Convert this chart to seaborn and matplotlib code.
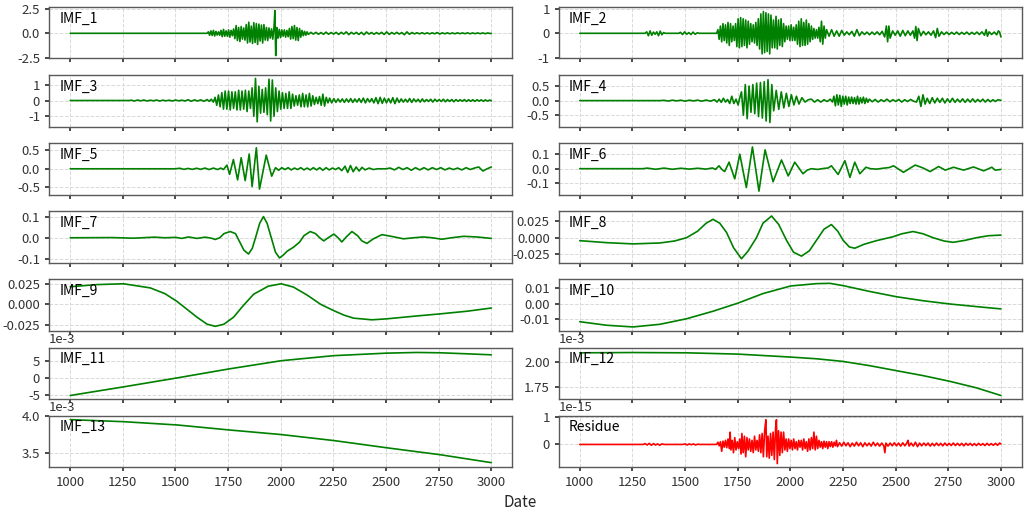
"""EMD decomposition panels: IMF_1 .. IMF_13 plus residue."""

import matplotlib
matplotlib.use("Agg")
import matplotlib.pyplot as plt
import pandas as pd
import seaborn as sns
from matplotlib.ticker import MultipleLocator, FixedLocator

# ---- values (date, amplitude) ----
imf1_x = [1000, 1650, 1656, 1662, 1668, 1674, 1680, 1686, 1692, 1698, 1704, 1710, 1716, 1722, 1728, 1734,
          1740, 1746, 1752, 1758, 1764, 1770, 1776, 1782, 1788, 1794, 1800, 1806, 1812, 1818, 1824, 1830,
          1836, 1842, 1848, 1854, 1860, 1866, 1872, 1878, 1884, 1890, 1896, 1902, 1908, 1914, 1920, 1926,
          1932, 1938, 1944, 1950, 1956, 1962, 1968, 1972, 1976, 1981, 1987, 1993, 1999, 2005, 2011, 2017,
          2023, 2029, 2035, 2041, 2047, 2053, 2059, 2065, 2071, 2077, 2083, 2089, 2095, 2101, 2107, 2113,
          2119, 2125, 2131, 2143, 2155, 2167, 2179, 2191, 2203, 2215, 2227, 2239, 2251, 2263, 2275, 2287,
          2299, 2311, 2323, 2335, 2347, 2359, 2371, 2383, 2395, 2407, 2419, 2431, 2443, 2455, 2467, 2479,
          2491, 2503, 2515, 2527, 2539, 2551, 2563, 2575, 2587, 2599, 2611, 2623, 2635, 2647, 2659, 2671,
          2683, 2695, 2707, 2719, 2731, 2743, 2755, 2767, 2779, 2791, 2803, 2815, 2827, 2839, 2851, 2863,
          2875, 2887, 2899, 2911, 2923, 2935, 2947, 2959, 2971, 2983, 2995, 3000]
imf1_y = [0.0, 0.0, 0.15, -0.2, 0.25, -0.22, 0.3, -0.28, 0.2, -0.18, 0.15, -0.2, 0.3, -0.35, 0.4, -0.3,
          0.25, -0.3, 0.35, -0.4, 0.3, -0.25, 0.45, -0.55, 0.8, -0.75, 0.6, -0.85, 0.7, -0.6, 0.55, -0.7,
          0.9, -1.0, 1.15, -0.9, 0.75, -1.05, 1.1, -0.95, 1.0, -1.15, 0.95, -0.8, 0.85, -1.0, 0.9, -0.7,
          0.6, -0.75, 0.55, -0.5, 0.45, -0.6, 0.7, 2.35, -2.3, 0.6, -0.5, 0.4, -0.45, 0.35, -0.3, 0.35,
          -0.4, 0.3, -0.35, 0.5, -0.6, 0.7, -0.55, 0.8, -0.7, 0.6, -0.75, 0.5, -0.4, 0.3, -0.25, 0.2,
          -0.2, 0.15, -0.12, 0.1, -0.08, 0.1, -0.1, 0.08, -0.1, 0.12, -0.1, 0.08, -0.08, 0.1, -0.12, 0.1,
          -0.08, 0.15, -0.14, 0.1, -0.08, 0.1, -0.12, 0.1, -0.15, 0.14, -0.08, 0.08, -0.1, 0.08, -0.08, 0.1,
          -0.12, 0.15, -0.12, 0.08, -0.08, 0.1, -0.08, 0.08, -0.15, 0.15, -0.1, 0.08, -0.06, 0.06, -0.06, 0.06,
          -0.06, 0.05, -0.06, 0.05, -0.05, 0.08, -0.08, 0.05, -0.05, 0.05, -0.05, 0.04, -0.05, 0.05, -0.04, 0.04,
          -0.04, 0.05, -0.05, 0.04, -0.04, 0.04, -0.04, 0.04, -0.04, 0.04, -0.03, 0.0]

imf2_x = [1000, 1310, 1318, 1326, 1334, 1342, 1350, 1358, 1366, 1374, 1382, 1390, 1398, 1406, 1470, 1478,
          1488, 1498, 1508, 1518, 1528, 1538, 1548, 1558, 1568, 1650, 1656, 1662, 1668, 1674, 1680, 1686,
          1692, 1698, 1704, 1710, 1716, 1722, 1728, 1734, 1740, 1746, 1752, 1758, 1764, 1770, 1776, 1782,
          1788, 1794, 1800, 1806, 1812, 1818, 1824, 1830, 1836, 1842, 1848, 1854, 1860, 1866, 1872, 1878,
          1884, 1890, 1896, 1902, 1908, 1914, 1920, 1926, 1932, 1938, 1944, 1950, 1956, 1962, 1968, 1974,
          1980, 1986, 1992, 1998, 2004, 2010, 2016, 2022, 2028, 2034, 2040, 2046, 2052, 2058, 2064, 2070,
          2076, 2082, 2088, 2094, 2100, 2106, 2112, 2118, 2124, 2130, 2136, 2142, 2148, 2154, 2160, 2166,
          2172, 2184, 2196, 2208, 2220, 2232, 2244, 2256, 2268, 2280, 2292, 2304, 2316, 2328, 2340, 2352,
          2364, 2376, 2388, 2400, 2412, 2424, 2436, 2448, 2456, 2462, 2468, 2474, 2486, 2498, 2510, 2522,
          2534, 2546, 2558, 2570, 2582, 2590, 2596, 2602, 2608, 2620, 2632, 2644, 2656, 2668, 2680, 2690,
          2698, 2706, 2718, 2730, 2742, 2754, 2766, 2778, 2790, 2802, 2814, 2826, 2838, 2850, 2862, 2874,
          2886, 2898, 2910, 2922, 2930, 2936, 2944, 2956, 2968, 2980, 2988, 2994, 3000]
imf2_y = [0.0, 0.0, 0.06, -0.1, 0.1, -0.08, 0.05, -0.04, 0.06, -0.1, 0.09, -0.06, 0.03, 0.0, 0.0, 0.04,
          -0.05, 0.06, -0.04, 0.03, -0.05, 0.05, -0.04, 0.02, 0.0, 0.0, 0.15, -0.25, 0.3, -0.35, 0.4, -0.3,
          0.35, -0.4, 0.45, -0.5, 0.4, -0.35, 0.3, -0.3, 0.4, -0.55, 0.6, -0.6, 0.65, -0.55, 0.6, -0.5,
          0.55, -0.6, 0.5, -0.45, 0.4, -0.35, 0.35, -0.4, 0.45, -0.5, 0.6, -0.65, 0.8, -0.85, 0.9, -0.8,
          0.85, -0.75, 0.8, -0.85, 0.75, -0.6, 0.55, -0.6, 0.7, -0.65, 0.55, -0.5, 0.6, -0.55, 0.4, -0.35,
          0.3, -0.25, 0.3, -0.3, 0.35, -0.3, 0.25, -0.3, 0.35, -0.45, 0.5, -0.55, 0.6, -0.5, 0.45, -0.5,
          0.55, -0.45, 0.4, -0.35, 0.3, -0.25, 0.2, -0.2, 0.15, -0.2, 0.25, -0.35, 0.5, -0.45, 0.3, -0.2,
          0.15, -0.12, 0.15, -0.12, 0.1, -0.12, 0.12, -0.08, 0.06, -0.06, 0.08, -0.12, 0.15, -0.1, 0.06, -0.05,
          0.05, -0.06, 0.05, -0.05, 0.06, -0.06, 0.08, -0.15, 0.3, -0.35, 0.3, -0.2, 0.1, -0.08, 0.1, -0.12,
          0.12, -0.1, 0.1, -0.08, 0.1, -0.2, 0.28, -0.3, 0.2, -0.1, 0.08, -0.06, 0.06, -0.08, 0.1, -0.18,
          0.2, -0.12, 0.06, -0.05, 0.05, -0.05, 0.04, -0.04, 0.05, -0.05, 0.04, -0.04, 0.05, -0.05, 0.04, -0.04,
          0.05, -0.05, 0.06, -0.08, 0.15, -0.12, 0.06, -0.05, 0.05, -0.06, 0.1, 0.05, -0.15]

imf3_x = [1000, 1280, 1290, 1305, 1320, 1335, 1350, 1365, 1380, 1395, 1410, 1425, 1440, 1455, 1470, 1485,
          1500, 1515, 1530, 1545, 1560, 1575, 1590, 1605, 1620, 1635, 1650, 1660, 1670, 1680, 1688, 1696,
          1704, 1712, 1720, 1728, 1736, 1744, 1752, 1760, 1768, 1776, 1784, 1792, 1800, 1808, 1816, 1824,
          1832, 1840, 1848, 1856, 1864, 1872, 1880, 1888, 1896, 1904, 1912, 1920, 1928, 1936, 1944, 1952,
          1960, 1968, 1976, 1984, 1992, 2000, 2008, 2016, 2024, 2032, 2040, 2048, 2056, 2064, 2072, 2080,
          2088, 2096, 2104, 2112, 2120, 2128, 2136, 2144, 2152, 2160, 2168, 2176, 2184, 2192, 2200, 2208,
          2216, 2224, 2232, 2242, 2252, 2262, 2272, 2282, 2292, 2302, 2312, 2322, 2332, 2342, 2352, 2362,
          2372, 2382, 2392, 2402, 2412, 2422, 2432, 2442, 2452, 2462, 2472, 2482, 2492, 2502, 2512, 2522,
          2532, 2542, 2552, 2562, 2572, 2582, 2592, 2602, 2612, 2622, 2632, 2642, 2652, 2662, 2672, 2682,
          2692, 2702, 2712, 2722, 2732, 2742, 2752, 2762, 2772, 2782, 2792, 2802, 2812, 2822, 2832, 2842,
          2852, 2862, 2872, 2882, 2892, 2902, 2912, 2922, 2932, 2942, 2952, 2962, 2972, 2982, 2992, 3000]
imf3_y = [0.0, 0.0, 0.02, -0.03, 0.03, -0.02, 0.03, -0.03, 0.02, -0.02, 0.03, -0.03, 0.02, -0.02, 0.02, -0.03,
          0.03, -0.02, 0.02, -0.03, 0.05, -0.05, 0.04, -0.03, 0.04, -0.05, 0.06, -0.05, 0.08, -0.1, 0.2, -0.3,
          0.35, -0.4, 0.5, -0.55, 0.6, -0.55, 0.6, -0.6, 0.55, -0.5, 0.55, -0.6, 0.65, -0.6, 0.6, -0.55,
          0.65, -0.7, 0.6, -0.5, 0.8, -1.0, 1.4, -1.35, 0.9, -0.8, 0.7, -0.75, 0.8, -0.9, 1.35, -1.3,
          1.3, -1.0, 0.8, -0.7, 0.6, -0.55, 0.5, -0.5, 0.45, -0.5, 0.55, -0.5, 0.4, -0.35, 0.3, -0.3,
          0.35, -0.4, 0.45, -0.4, 0.35, -0.4, 0.45, -0.35, 0.3, -0.25, 0.2, -0.2, 0.25, -0.3, 0.4, -0.35,
          0.2, -0.15, 0.15, -0.15, 0.12, -0.12, 0.1, -0.1, 0.1, -0.12, 0.1, -0.1, 0.12, -0.12, 0.1, -0.1,
          0.12, -0.12, 0.15, -0.15, 0.12, -0.1, 0.12, -0.15, 0.18, -0.2, 0.2, -0.18, 0.15, -0.15, 0.12, -0.15,
          0.18, -0.2, 0.15, -0.12, 0.1, -0.1, 0.08, -0.1, 0.12, -0.12, 0.1, -0.08, 0.08, -0.1, 0.1, -0.08,
          0.06, -0.06, 0.08, -0.1, 0.08, -0.06, 0.06, -0.06, 0.08, -0.08, 0.06, -0.06, 0.06, -0.08, 0.06, -0.05,
          0.05, -0.05, 0.06, -0.06, 0.05, -0.05, 0.05, -0.06, 0.05, -0.04, 0.04, -0.05, 0.04, -0.04, 0.03, -0.02]

imf4_x = [1000, 1380, 1400, 1420, 1440, 1460, 1480, 1500, 1520, 1540, 1560, 1580, 1600, 1620, 1640, 1652,
          1662, 1672, 1682, 1692, 1702, 1712, 1722, 1732, 1742, 1752, 1760, 1768, 1777, 1786, 1795, 1804,
          1813, 1822, 1831, 1840, 1849, 1858, 1867, 1876, 1885, 1894, 1903, 1912, 1921, 1933, 1945, 1957,
          1969, 1981, 1993, 2005, 2017, 2029, 2041, 2055, 2070, 2085, 2100, 2115, 2130, 2145, 2160, 2175,
          2190, 2200, 2207, 2214, 2221, 2228, 2235, 2242, 2249, 2256, 2263, 2270, 2277, 2284, 2291, 2298,
          2305, 2312, 2319, 2326, 2333, 2340, 2347, 2354, 2361, 2368, 2375, 2389, 2403, 2417, 2431, 2445,
          2459, 2473, 2487, 2501, 2515, 2529, 2543, 2557, 2571, 2585, 2599, 2610, 2620, 2630, 2640, 2650,
          2662, 2674, 2686, 2698, 2710, 2722, 2734, 2746, 2758, 2770, 2782, 2794, 2806, 2818, 2830, 2842,
          2854, 2866, 2878, 2890, 2902, 2914, 2926, 2938, 2950, 2962, 2974, 2986, 3000]
imf4_y = [0.0, 0.0, 0.01, -0.015, 0.015, -0.01, 0.015, -0.02, 0.015, -0.01, 0.015, -0.02, 0.02, -0.02, 0.03, -0.05,
          0.05, -0.06, 0.08, -0.05, 0.04, -0.1, 0.15, -0.1, 0.05, -0.15, 0.1, 0.3, -0.5, 0.55, -0.62, 0.5,
          -0.4, 0.55, -0.45, 0.6, -0.55, 0.62, -0.6, 0.65, -0.7, 0.72, -0.75, 0.55, -0.35, 0.35, -0.3, 0.3,
          -0.25, 0.25, -0.2, 0.2, -0.15, 0.15, -0.12, 0.1, -0.05, 0.03, 0.05, -0.05, 0.03, -0.05, 0.03, -0.03,
          0.05, -0.05, 0.15, -0.18, 0.2, -0.15, 0.18, -0.2, 0.15, -0.12, 0.15, -0.15, 0.12, -0.1, 0.12, -0.1,
          0.1, -0.12, 0.15, -0.12, 0.1, -0.08, 0.12, -0.1, 0.08, -0.06, 0.05, -0.04, 0.04, -0.05, 0.03, -0.03,
          0.05, -0.04, 0.03, -0.03, 0.04, -0.05, 0.03, -0.03, 0.04, -0.02, -0.05, 0.15, -0.2, 0.2, -0.12, 0.08,
          -0.1, 0.1, -0.08, 0.08, -0.06, 0.08, -0.08, 0.06, -0.06, 0.08, -0.06, 0.05, -0.05, 0.06, -0.06, 0.05,
          -0.05, 0.06, -0.05, 0.04, -0.04, 0.05, -0.05, 0.04, -0.04, 0.03, -0.03, 0.03, 0.01]

imf5_x = [1000, 1500, 1520, 1540, 1560, 1580, 1600, 1620, 1640, 1660, 1680, 1700, 1715, 1728, 1744, 1757,
          1775, 1795, 1812, 1831, 1850, 1864, 1884, 1899, 1931, 1957, 1975, 1990, 2005, 2020, 2035, 2050,
          2065, 2080, 2095, 2110, 2125, 2140, 2155, 2170, 2185, 2200, 2215, 2230, 2245, 2260, 2275, 2290,
          2305, 2318, 2331, 2344, 2358, 2372, 2386, 2400, 2420, 2440, 2460, 2500, 2520, 2540, 2560, 2580,
          2600, 2620, 2640, 2660, 2680, 2700, 2720, 2740, 2760, 2780, 2800, 2820, 2840, 2860, 2880, 2900,
          2920, 2940, 2960, 2980, 3000]
imf5_y = [0.0, 0.0, 0.015, -0.015, 0.01, -0.015, 0.015, -0.015, 0.02, -0.02, 0.02, -0.02, 0.02, -0.02, 0.1, -0.15,
          0.25, -0.3, 0.3, -0.32, 0.4, -0.48, 0.57, -0.55, 0.37, -0.2, 0.03, -0.04, 0.03, -0.02, 0.03, -0.03,
          0.02, -0.02, 0.03, -0.03, 0.02, -0.03, 0.03, -0.03, 0.03, -0.04, 0.03, -0.03, 0.02, -0.02, 0.03, -0.05,
          0.07, -0.1, 0.09, -0.08, 0.05, -0.06, 0.04, -0.03, 0.02, -0.02, 0.0, 0.0, 0.02, -0.03, 0.04, -0.02,
          0.03, -0.04, 0.03, -0.03, 0.03, -0.03, 0.03, -0.02, 0.03, -0.03, 0.02, -0.02, 0.02, -0.03, 0.03, -0.02,
          0.02, 0.05, -0.06, 0.0, 0.05]

imf6_x = [1000, 1300, 1320, 1360, 1400, 1440, 1480, 1520, 1560, 1600, 1630, 1645, 1661, 1675, 1688, 1709,
          1736, 1760, 1791, 1820, 1851, 1880, 1918, 1958, 1990, 2021, 2060, 2080, 2100, 2130, 2160, 2180,
          2195, 2227, 2259, 2283, 2306, 2330, 2359, 2380, 2410, 2440, 2470, 2490, 2537, 2593, 2630, 2664,
          2704, 2736, 2775, 2823, 2870, 2918, 2957, 2973, 3000]
imf6_y = [0.0, 0.0, 0.004, -0.004, 0.004, -0.004, 0.003, -0.003, 0.003, -0.003, 0.005, -0.005, 0.02, -0.005, -0.02, 0.045,
          -0.07, 0.1, -0.13, 0.15, -0.155, 0.13, -0.09, 0.06, -0.05, 0.045, -0.035, -0.01, 0.0, -0.005, 0.002, 0.005,
          0.02, -0.04, 0.055, -0.06, 0.045, -0.035, 0.01, 0.0, -0.003, 0.003, 0.008, 0.02, -0.025, 0.025, 0.005, -0.02,
          0.015, -0.01, 0.01, -0.01, 0.012, -0.015, 0.01, -0.01, -0.005]

imf7_x = [1000, 1200, 1300, 1400, 1450, 1500, 1530, 1562, 1602, 1641, 1670, 1689, 1710, 1730, 1760, 1785,
          1805, 1825, 1847, 1865, 1880, 1900, 1918, 1935, 1955, 1975, 1994, 2010, 2030, 2061, 2090, 2110,
          2140, 2165, 2185, 2204, 2225, 2252, 2272, 2290, 2312, 2338, 2365, 2385, 2409, 2440, 2480, 2520,
          2583, 2630, 2678, 2720, 2765, 2810, 2868, 2930, 3000]
imf7_y = [0.0, 0.001, -0.002, 0.003, 0.0, 0.002, -0.003, 0.004, -0.003, 0.003, -0.002, -0.008, 0.0, 0.02, 0.03, 0.02,
          -0.02, -0.06, -0.078, -0.05, 0.0, 0.07, 0.102, 0.07, 0.0, -0.07, -0.097, -0.085, -0.065, -0.045, -0.02, 0.01,
          0.03, 0.02, 0.0, -0.015, 0.0, 0.018, 0.0, -0.02, 0.005, 0.03, 0.01, -0.015, -0.027, -0.005, 0.015, 0.008,
          -0.005, 0.0, 0.004, 0.0, -0.007, 0.0, 0.007, 0.004, -0.003]

imf8_x = [1000, 1127, 1253, 1380, 1450, 1507, 1560, 1600, 1633, 1665, 1697, 1730, 1768, 1800, 1839, 1870,
          1911, 1945, 1982, 2015, 2053, 2090, 2124, 2160, 2195, 2225, 2251, 2280, 2306, 2350, 2409, 2488,
          2530, 2583, 2630, 2678, 2730, 2773, 2830, 2884, 2940, 3000]
imf8_y = [-0.0045, -0.0075, -0.0094, -0.008, -0.005, 0.0, 0.01, 0.022, 0.028, 0.022, 0.008, -0.015, -0.032, -0.02, 0.0, 0.022,
          0.033, 0.02, -0.004, -0.022, -0.028, -0.02, -0.004, 0.013, 0.02, 0.01, -0.004, -0.014, -0.016, -0.01, -0.0045, 0.0015,
          0.006, 0.0094, 0.006, 0.0, -0.005, -0.007, -0.004, 0.0, 0.003, 0.004]

imf9_x = [1000, 1127, 1253, 1380, 1450, 1507, 1560, 1602, 1650, 1689, 1730, 1776, 1820, 1871, 1940, 2002,
          2060, 2124, 2190, 2251, 2300, 2346, 2433, 2504, 2647, 2757, 2884, 3000]
imf9_y = [0.0214, 0.024, 0.025, 0.020, 0.013, 0.0036, -0.007, -0.0155, -0.024, -0.0266, -0.024, -0.0155, -0.002, 0.0123, 0.022, 0.025,
          0.021, 0.0115, 0.0, -0.0075, -0.013, -0.0167, -0.0187, -0.0175, -0.014, -0.0115, -0.0083, -0.0044]

imf10_x = [1000, 1127, 1253, 1380, 1507, 1633, 1752, 1871, 2002, 2124, 2188, 2251, 2378, 2504, 2631, 2757, 2884, 3000]
imf10_y = [-0.0117, -0.014, -0.0151, -0.0134, -0.0098, -0.0049, 0.0004, 0.0066, 0.0115, 0.013, 0.0132, 0.0117,
           0.0079, 0.0045, 0.0019, -0.0002, -0.0019, -0.0034]

imf11_x = [1000, 1253, 1507, 1752, 2002, 2251, 2504, 2647, 2757, 2884, 3000]
imf11_y = [-5.2e-3, -2.65e-3, 0.0, 2.65e-3, 5.1e-3, 6.6e-3, 7.35e-3, 7.55e-3, 7.45e-3, 7.15e-3, 6.85e-3]

imf12_x = [1000, 1253, 1507, 1752, 2002, 2124, 2251, 2378, 2504, 2631, 2757, 2884, 3000]
imf12_y = [2.09e-3, 2.093e-3, 2.09e-3, 2.077e-3, 2.047e-3, 2.03e-3, 2.003e-3, 1.96e-3, 1.91e-3, 1.86e-3,
           1.803e-3, 1.737e-3, 1.66e-3]

imf13_x = [1000, 1253, 1507, 1752, 2002, 2251, 2504, 2757, 3000]
imf13_y = [3.955e-3, 3.927e-3, 3.882e-3, 3.814e-3, 3.75e-3, 3.668e-3, 3.568e-3, 3.473e-3, 3.364e-3]

# residue in units of 1e-15
residue_x = [1000, 1300, 1310, 1320, 1330, 1340, 1350, 1360, 1370, 1380, 1390, 1400, 1490, 1500, 1510, 1520,
             1530, 1540, 1550, 1560, 1570, 1650, 1656, 1662, 1668, 1674, 1680, 1686, 1692, 1698, 1704, 1710,
             1714, 1718, 1724, 1730, 1736, 1742, 1748, 1754, 1760, 1766, 1770, 1776, 1782, 1788, 1794, 1800,
             1806, 1812, 1818, 1824, 1830, 1836, 1842, 1848, 1854, 1860, 1866, 1872, 1878, 1884, 1888, 1894,
             1900, 1906, 1912, 1918, 1924, 1930, 1934, 1938, 1944, 1950, 1956, 1962, 1968, 1974, 1980, 1986,
             1992, 1998, 2004, 2010, 2016, 2022, 2028, 2034, 2040, 2046, 2052, 2058, 2064, 2070, 2076, 2082,
             2088, 2094, 2100, 2106, 2112, 2118, 2124, 2130, 2136, 2142, 2148, 2154, 2160, 2166, 2172, 2178,
             2184, 2190, 2196, 2202, 2208, 2214, 2219, 2224, 2234, 2244, 2254, 2264, 2274, 2284, 2294, 2304,
             2314, 2324, 2334, 2344, 2354, 2364, 2374, 2384, 2394, 2404, 2414, 2424, 2434, 2444, 2449, 2454,
             2464, 2474, 2484, 2494, 2504, 2514, 2524, 2534, 2544, 2554, 2559, 2564, 2574, 2584, 2594, 2604,
             2614, 2624, 2634, 2644, 2654, 2664, 2674, 2684, 2694, 2704, 2714, 2724, 2734, 2744, 2754, 2764,
             2774, 2784, 2794, 2804, 2814, 2824, 2834, 2844, 2854, 2864, 2874, 2884, 2894, 2904, 2914, 2924,
             2934, 2944, 2954, 2964, 2974, 2984, 2994, 3000]
residue_y = [0.0, 0.0, 0.03, -0.02, 0.04, -0.03, 0.03, -0.02, 0.02, -0.03, 0.02, 0.0, 0.0, 0.02, -0.02, 0.02,
             -0.01, 0.02, -0.02, 0.01, 0.0, 0.0, 0.08, -0.05, 0.1, -0.25, 0.12, -0.1, 0.15, -0.12, 0.2, -0.15,
             0.45, -0.2, 0.15, -0.3, 0.25, -0.2, 0.1, -0.15, 0.2, -0.35, 0.4, -0.3, 0.3, -0.45, 0.25, -0.2,
             0.2, -0.25, 0.15, -0.3, 0.3, -0.2, 0.15, -0.25, 0.35, -0.3, 0.4, -0.45, 0.5, 0.9, -0.45, 0.3,
             -0.5, 0.4, -0.4, 0.45, -0.55, 0.6, 0.9, -0.7, 0.5, -0.4, 0.45, -0.3, 0.45, -0.2, 0.2, -0.25,
             0.2, -0.15, 0.15, -0.2, 0.2, -0.15, 0.1, -0.2, 0.15, -0.1, 0.15, -0.2, 0.2, -0.15, 0.1, -0.25,
             0.2, -0.2, 0.25, -0.15, 0.45, -0.2, 0.3, -0.15, 0.15, -0.1, 0.1, -0.15, 0.12, -0.1, 0.1, -0.15,
             0.1, -0.08, 0.1, -0.1, 0.08, -0.05, 0.15, -0.08, 0.06, -0.06, 0.08, -0.05, 0.06, -0.08, 0.05, -0.06,
             0.08, -0.05, 0.06, -0.08, 0.06, -0.05, 0.05, -0.06, 0.08, -0.05, 0.05, -0.06, 0.05, -0.05, -0.3, 0.05,
             -0.06, 0.05, -0.05, 0.06, -0.05, 0.05, -0.06, 0.06, -0.05, 0.06, 0.15, -0.06, 0.05, -0.06, 0.08, -0.08,
             0.05, -0.05, 0.05, -0.04, 0.05, -0.06, 0.04, -0.05, 0.05, -0.04, 0.04, -0.05, 0.05, -0.04, 0.04, -0.04,
             0.05, -0.04, 0.04, -0.04, 0.04, -0.05, 0.04, -0.03, 0.04, -0.04, 0.03, -0.04, 0.04, -0.03, 0.03, -0.04,
             0.04, -0.03, 0.03, -0.03, 0.04, -0.03, 0.05, 0.02]
residue_scale = 1e-15

# ---- panel layout: (label, x, y, scale, colour, ylim, yticks) ----
panels = [
    ("IMF_1", imf1_x, imf1_y, 1, "green", (-2.6, 2.7), [-2.5, 0, 2.5]),
    ("IMF_2", imf2_x, imf2_y, 1, "green", (-1.04, 1.08), [-1, 0, 1]),
    ("IMF_3", imf3_x, imf3_y, 1, "green", (-1.65, 1.6), [-1, 0, 1]),
    ("IMF_4", imf4_x, imf4_y, 1, "green", (-0.89, 0.87), [-0.5, 0, 0.5]),
    ("IMF_5", imf5_x, imf5_y, 1, "green", (-0.70, 0.69), [-0.5, 0, 0.5]),
    ("IMF_6", imf6_x, imf6_y, 1, "green", (-0.179, 0.175), [-0.1, 0, 0.1]),
    ("IMF_7", imf7_x, imf7_y, 1, "green", (-0.12, 0.127), [-0.1, 0, 0.1]),
    ("IMF_8", imf8_x, imf8_y, 1, "green", (-0.038, 0.040), [-0.025, 0, 0.025]),
    ("IMF_9", imf9_x, imf9_y, 1, "green", (-0.032, 0.0302), [-0.025, 0, 0.025]),
    ("IMF_10", imf10_x, imf10_y, 1, "green", (-0.0176, 0.0157), [-0.01, 0, 0.01]),
    ("IMF_11", imf11_x, imf11_y, 1, "green", (-6.2e-3, 9.0e-3), [-5e-3, 0, 5e-3]),
    ("IMF_12", imf12_x, imf12_y, 1, "green", (1.626e-3, 2.143e-3), [1.75e-3, 2.0e-3]),
    ("IMF_13", imf13_x, imf13_y, 1, "green", (3.305e-3, 4.01e-3), [3.5e-3, 4.0e-3]),
    ("Residue", residue_x, residue_y, residue_scale, "red", (-0.82e-15, 1.05e-15), [0, 1e-15]),
]

sns.set_theme(style="whitegrid")
plt.rcParams.update({
    "font.family": ["Noto Sans CJK SC", "DejaVu Sans"],
    "axes.unicode_minus": False,
    "axes.edgecolor": "0.35",
    "axes.linewidth": 1.0,
    "grid.linestyle": "--",
    "grid.color": "#d9d9d9",
    "grid.linewidth": 0.7,
    "xtick.bottom": True,
    "ytick.left": True,
    "xtick.color": "0.2",
    "ytick.color": "0.2",
    "xtick.major.size": 3,
    "ytick.major.size": 3,
    "xtick.labelsize": 9.5,
    "ytick.labelsize": 9.5,
    "axes.formatter.limits": (-3, 4),
})

fig, axes = plt.subplots(7, 2, sharex=True, figsize=(10.24, 5.12), dpi=100)
fig.subplots_adjust(left=0.048, right=0.998, top=0.986, bottom=0.088, wspace=0.10, hspace=0.327)

for ax, (label, xs, ys, scale, colour, ylim, yticks) in zip(axes.flatten(), panels):
    df = pd.DataFrame({"Date": xs, "value": [v * scale for v in ys]})
    sns.lineplot(data=df, x="Date", y="value", ax=ax, color=colour, linewidth=1.2, sort=False)
    ax.set_xlabel("")
    ax.set_ylabel("")
    ax.set_ylim(*ylim)
    ax.yaxis.set_major_locator(FixedLocator(yticks))
    ax.set_xlim(900, 3100)
    ax.xaxis.set_major_locator(MultipleLocator(250))
    ax.text(0.022, 0.78, label, transform=ax.transAxes, fontsize=10, va="center", color="black")

fig.text(0.508, 0.018, "Date", ha="center", va="center", fontsize=11)

plt.savefig("out.png", dpi=100)
plt.close()
